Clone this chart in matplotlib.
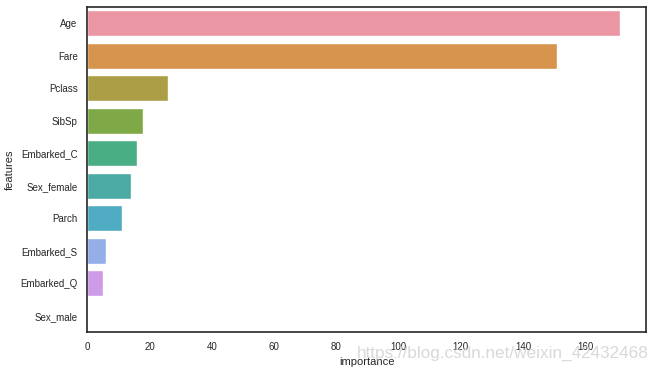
import matplotlib
matplotlib.use('Agg')
import matplotlib.pyplot as plt
from matplotlib.ticker import MultipleLocator
import seaborn as sns
import pandas as pd

features = ['Age', 'Fare', 'Pclass', 'SibSp', 'Embarked_C', 'Sex_female',
            'Parch', 'Embarked_S', 'Embarked_Q', 'Sex_male']
importance = [171, 151, 26, 18, 16, 14, 11, 6, 5, 0]

df = pd.DataFrame({'features': features, 'importance': importance})

sns.set_style('white')
plt.rcParams['font.family'] = ['Liberation Sans', 'DejaVu Sans']
plt.rcParams['font.size'] = 7

fig = plt.figure(figsize=(6.52, 3.70), dpi=100)
ax = fig.add_axes([0.134, 0.103, 0.857, 0.878])
# old seaborn default for many categories: husl with l=.7
sns.barplot(data=df, x='importance', y='features', hue='features',
            palette=sns.husl_palette(len(features), l=.7), legend=False, ax=ax)
ax.xaxis.set_major_locator(MultipleLocator(20))
ax.tick_params(labelsize=7)
ax.set_xlabel('importance', fontsize=8)
ax.set_ylabel('features', fontsize=8)
for s in ax.spines.values():
    s.set_color('.15')
    s.set_linewidth(1.2)

# watermark from the source image
fig.text(0.548, 0.033, 'https://blog.csdn.net/weixin_42432468', fontsize=12.3,
         color='#d2d2d2', alpha=0.85)

fig.savefig('out.png', dpi=100)
